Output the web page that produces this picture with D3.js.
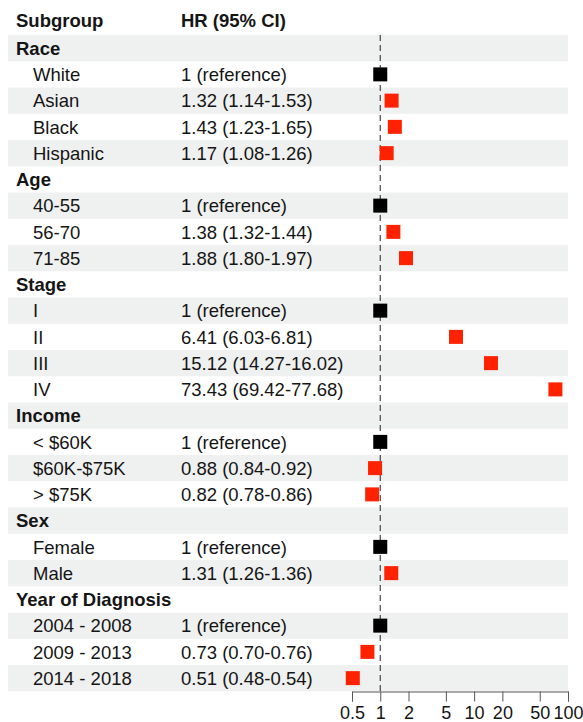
<!DOCTYPE html>
<html>
<head>
<meta charset="utf-8">
<script src="https://cdn.jsdelivr.net/npm/d3@7"></script>
<style>
  html, body { margin: 0; padding: 0; background: #fff; }
  svg { display: block; font-family: "Liberation Sans", Arial, sans-serif; }
</style>
</head>
<body>
<svg id="chart" width="583" height="722"></svg>
<script>
// Row labels in display order; group headers have no estimate
const labels = ["Race", "White", "Asian", "Black", "Hispanic",
  "Age", "40-55", "56-70", "71-85",
  "Stage", "I", "II", "III", "IV",
  "Income", "< $60K", "$60K-$75K", "> $75K",
  "Sex", "Female", "Male",
  "Year of Diagnosis", "2004 - 2008", "2009 - 2013", "2014 - 2018"];
const isHeader = [true, false, false, false, false,
  true, false, false, false,
  true, false, false, false, false,
  true, false, false, false,
  true, false, false,
  true, false, false, false];
// Hazard ratios with 95% CI (null for group header rows)
const hr = [null, 1, 1.32, 1.43, 1.17,
  null, 1, 1.38, 1.88,
  null, 1, 6.41, 15.12, 73.43,
  null, 1, 0.88, 0.82,
  null, 1, 1.31,
  null, 1, 0.73, 0.51];
const lower = [null, 1, 1.14, 1.23, 1.08,
  null, 1, 1.32, 1.80,
  null, 1, 6.03, 14.27, 69.42,
  null, 1, 0.84, 0.78,
  null, 1, 1.26,
  null, 1, 0.70, 0.48];
const upper = [null, 1, 1.53, 1.65, 1.26,
  null, 1, 1.44, 1.97,
  null, 1, 6.81, 16.02, 77.68,
  null, 1, 0.92, 0.86,
  null, 1, 1.36,
  null, 1, 0.76, 0.54];
const isReference = [false, true, false, false, false,
  false, true, false, false,
  false, true, false, false, false,
  false, true, false, false,
  false, true, false,
  false, true, false, false];
const tickValues = [0.5, 1, 2, 5, 10, 20, 50, 100];

const svg = d3.select("#chart");
const fontSize = 18.5;

const rowTop = 35, rowH = 26.25;
const y = d3.scaleBand()
  .domain(d3.range(labels.length))
  .range([rowTop, rowTop + rowH * labels.length])
  .padding(0);
const x = d3.scaleLog().domain([0.5, 100]).range([352, 568]);

const bandLeft = 8, bandRight = 568;

// Alternating row shading
svg.append("g").selectAll("rect")
  .data(d3.range(labels.length).filter(i => i % 2 === 0))
  .join("rect")
  .attr("x", bandLeft)
  .attr("y", i => y(i))
  .attr("width", bandRight - bandLeft)
  .attr("height", y.bandwidth())
  .attr("fill", "#eff0f0");

// Column titles
svg.append("text").attr("x", 16).attr("y", 27)
  .attr("font-size", fontSize).attr("font-weight", "bold").attr("fill", "#151515")
  .text("Subgroup");
svg.append("text").attr("x", 181).attr("y", 27)
  .attr("font-size", fontSize).attr("font-weight", "bold").attr("fill", "#151515")
  .text("HR (95% CI)");

// Subgroup labels
const rows = svg.append("g");
rows.selectAll("text.label")
  .data(d3.range(labels.length))
  .join("text")
  .attr("class", "label")
  .attr("x", i => isHeader[i] ? 16 : 33)
  .attr("y", i => y(i) + y.bandwidth() / 2)
  .attr("dy", "0.36em")
  .attr("font-size", fontSize)
  .attr("font-weight", i => isHeader[i] ? "bold" : "normal")
  .attr("fill", "#151515")
  .text(i => labels[i]);

// HR (95% CI) text
const fmt = d3.format(".2f");
rows.selectAll("text.hr")
  .data(d3.range(labels.length).filter(i => hr[i] !== null))
  .join("text")
  .attr("class", "hr")
  .attr("x", 181)
  .attr("y", i => y(i) + y.bandwidth() / 2)
  .attr("dy", "0.36em")
  .attr("font-size", fontSize)
  .attr("fill", "#151515")
  .text(i => isReference[i] ? "1 (reference)"
    : `${fmt(hr[i])} (${fmt(lower[i])}-${fmt(upper[i])})`);

// Axis
const axisY = 691.5;
const axis = svg.append("g")
  .attr("transform", `translate(0,${axisY})`)
  .call(d3.axisBottom(x).tickValues(tickValues).tickFormat(d3.format("")).tickSize(10).tickPadding(5));
axis.select(".domain").attr("stroke", "#555").attr("stroke-width", 1);
axis.selectAll(".tick line").attr("stroke", "#555");
axis.selectAll(".tick text")
  .attr("font-family", "'Liberation Sans', Arial, sans-serif")
  .attr("font-size", 18).attr("fill", "#151515");

// Reference line at HR = 1
svg.append("line")
  .attr("x1", x(1)).attr("x2", x(1))
  .attr("y1", rowTop).attr("y2", axisY)
  .attr("stroke", "#444").attr("stroke-width", 1.2)
  .attr("stroke-dasharray", "6,4");

// Confidence intervals and point estimates
const est = d3.range(labels.length).filter(i => hr[i] !== null);
const marks = svg.append("g");
marks.selectAll("line.ci")
  .data(est)
  .join("line")
  .attr("class", "ci")
  .attr("x1", i => x(lower[i])).attr("x2", i => x(upper[i]))
  .attr("y1", i => y(i) + y.bandwidth() / 2)
  .attr("y2", i => y(i) + y.bandwidth() / 2)
  .attr("stroke", i => isReference[i] ? "#000" : "#ff2200")
  .attr("stroke-width", 1);
const sq = 14;
marks.selectAll("rect.pt")
  .data(est)
  .join("rect")
  .attr("class", "pt")
  .attr("x", i => x(hr[i]) - sq / 2)
  .attr("y", i => y(i) + y.bandwidth() / 2 - sq / 2)
  .attr("width", sq).attr("height", sq)
  .attr("fill", i => isReference[i] ? "#000" : "#ff2200");
</script>
</body>
</html>
